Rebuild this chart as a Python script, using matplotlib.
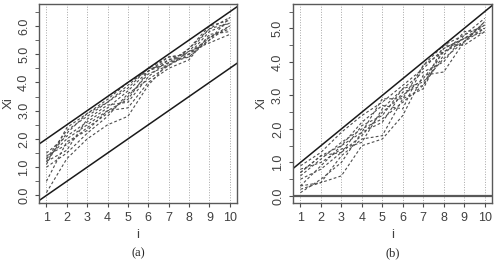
import numpy as np
import matplotlib
matplotlib.use("Agg")
import matplotlib.pyplot as plt

plt.rcParams["font.family"] = ["Liberation Sans", "DejaVu Sans"]

# -----------------------------
# DATA
# -----------------------------
i_vals = np.arange(1, 11)

# panel (a): dashed sample paths
paths_a = [
    [1.1, 2.4, 2.9, 3.4, 4.0, 4.4, 4.8, 5.1, 5.9, 6.3],
    [1.3, 2.3, 2.8, 3.3, 3.9, 4.5, 4.9, 5.0, 5.8, 6.1],
    [1.5, 2.1, 2.6, 3.1, 3.7, 4.4, 4.7, 5.2, 6.0, 6.2],
    [1.4, 1.8, 2.4, 2.9, 3.5, 4.3, 4.6, 5.0, 5.6, 5.9],
    [1.2, 1.6, 2.7, 3.2, 3.3, 4.2, 4.8, 4.9, 5.5, 6.0],
    [0.5, 1.9, 2.3, 3.0, 3.1, 4.0, 4.5, 4.8, 5.7, 5.8],
    [1.0, 1.5, 2.2, 2.8, 3.6, 4.1, 4.6, 5.1, 5.4, 5.7],
    [0.1, 1.3, 2.0, 2.5, 2.8, 3.9, 4.7, 4.9, 5.6, 6.0],
    [1.3, 2.0, 2.5, 3.0, 3.4, 4.4, 4.9, 5.0, 5.5, 6.3],
    [1.2, 2.2, 2.9, 3.3, 3.8, 4.5, 4.6, 5.2, 5.9, 6.1],
]

# panel (b): dashed sample paths
paths_b = [
    [0.7, 1.2, 1.5, 1.9, 2.9, 2.9, 3.9, 4.5, 4.8, 5.3],
    [0.9, 1.3, 1.9, 2.4, 2.8, 3.3, 3.8, 4.4, 4.7, 5.1],
    [0.5, 0.8, 1.3, 1.8, 2.5, 3.0, 3.5, 4.3, 4.6, 5.0],
    [0.3, 0.4, 1.2, 1.7, 1.8, 2.9, 3.2, 4.4, 4.7, 4.9],
    [0.2, 0.4, 0.6, 1.5, 1.7, 2.4, 3.6, 3.7, 4.6, 5.2],
    [0.6, 1.1, 1.6, 2.0, 2.3, 2.8, 3.3, 4.2, 4.9, 5.0],
    [0.1, 0.5, 1.0, 1.9, 2.2, 3.1, 3.3, 4.5, 4.5, 4.9],
    [0.8, 1.0, 1.4, 1.6, 2.6, 3.2, 3.7, 4.0, 4.8, 5.1],
    [0.3, 0.9, 1.5, 2.2, 2.7, 2.6, 3.9, 4.3, 4.7, 5.0],
    [0.7, 1.2, 1.3, 2.1, 2.4, 3.2, 3.4, 4.1, 4.6, 5.2],
]

# bounding lines: (intercept, slope)
lines_a = [(1.5, 0.5), (-0.5, 0.5)]
lines_b = [(0.5, 0.5), (0.0, 0.0)]

y_ticks_a = [0, 1, 2, 3, 4, 5, 6]
y_ticks_b = [0, 1, 2, 3, 4, 5]


def panel(ax, paths, lines, ylim, yticks, tag):
    ax.set_xlim(0.64, 10.36)
    ax.set_ylim(*ylim)
    for xi in i_vals:
        ax.axvline(xi, color="0.65", linestyle=":", linewidth=0.7, zorder=0)
    for p in paths:
        ax.plot(i_vals, p, color="0.3", linestyle=(0, (2.5, 2)), linewidth=0.8)
    xx = np.array([0.0, 11.0])
    for a, b in lines:
        lw = 1.6 if b == 0 else 1.1
        col = "0.35" if b == 0 else "0.1"
        ax.plot(xx, a + b * xx, color=col, linewidth=lw)
    ax.set_xticks(i_vals)
    ax.set_yticks(yticks)
    ax.set_yticklabels([f"{v:.1f}" for v in yticks], rotation=90, va="center")
    ax.set_yticks(np.arange(0, yticks[-1] + 0.51, 0.5), minor=True)
    ax.tick_params(axis="both", labelsize=9, color="0.3", length=3,
                   labelcolor="0.25")
    ax.tick_params(axis="y", which="minor", length=3, color="0.3")
    ax.set_xlabel("i", fontsize=9.5, color="0.25", va="center")
    ax.set_ylabel("Xi", fontsize=9.5, color="0.25", va="center")
    ax.xaxis.set_label_coords(0.5, -0.16)
    ax.yaxis.set_label_coords(-0.155, 0.5)
    for s in ax.spines.values():
        s.set_color("0.35")
        s.set_linewidth(1.0)
    ax.text(0.5, -0.252, tag, transform=ax.transAxes, ha="center", va="center",
            fontsize=9, family="Liberation Serif", color="0.15")


fig = plt.figure(figsize=(4.95, 2.6), dpi=100)
ax1 = fig.add_axes([0.079, 0.219, 0.400, 0.766])
ax2 = fig.add_axes([0.592, 0.219, 0.402, 0.766])

panel(ax1, paths_a, lines_a, (-0.27, 6.78), y_ticks_a, "(a)")
panel(ax2, paths_b, lines_b, (-0.21, 5.73), y_ticks_b, "(b)")

fig.savefig("out.png", dpi=100)
